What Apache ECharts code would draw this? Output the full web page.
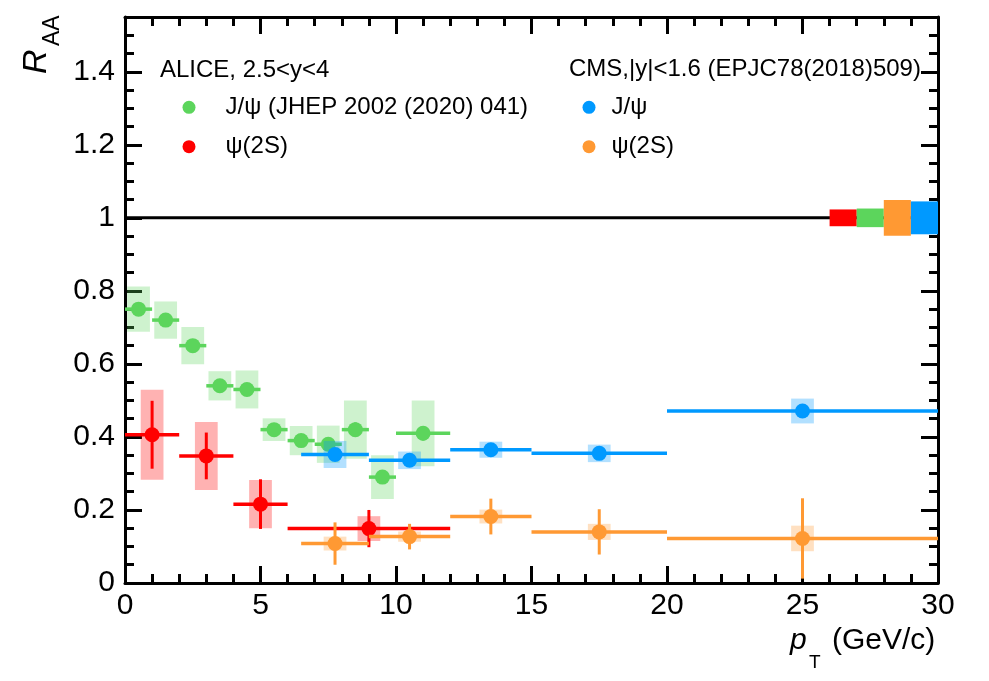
<!DOCTYPE html>
<html>
<head>
<meta charset="utf-8">
<title>R_AA vs pT</title>
<script src="https://cdn.jsdelivr.net/npm/echarts@6/dist/echarts.min.js"></script>
<style>
html, body { margin: 0; padding: 0; background: #fff; }
#main { width: 989px; height: 681px; }
</style>
</head>
<body>
<div id="main"></div>
<script>
// ALICE, 2.5<y<4 : J/psi
var aliceJpsiPt   = [0.5, 1.5, 2.5, 3.5, 4.5, 5.5, 6.5, 7.5, 8.5, 9.5, 11];
var aliceJpsiLo   = [0, 1, 2, 3, 4, 5, 6, 7, 8, 9, 10];
var aliceJpsiHi   = [1, 2, 3, 4, 5, 6, 7, 8, 9, 10, 12];
var aliceJpsiRaa  = [0.75, 0.72, 0.65, 0.54, 0.53, 0.42, 0.39, 0.38, 0.42, 0.29, 0.41];
var aliceJpsiStat = [0.01, 0.01, 0.01, 0.01, 0.01, 0.01, 0.01, 0.015, 0.02, 0.015, 0.02];
var aliceJpsiSyst = [0.062, 0.051, 0.051, 0.04, 0.052, 0.031, 0.04, 0.051, 0.08, 0.06, 0.09];

// ALICE : psi(2S)
var alicePsi2sPt   = [1, 3, 5, 9];
var alicePsi2sLo   = [0, 2, 4, 6];
var alicePsi2sHi   = [2, 4, 6, 12];
var alicePsi2sRaa  = [0.406, 0.348, 0.216, 0.149];
var alicePsi2sStat = [0.093, 0.064, 0.068, 0.051];
var alicePsi2sSyst = [0.123, 0.093, 0.066, 0.034];

// CMS, |y|<1.6 : J/psi
var cmsJpsiPt   = [7.75, 10.5, 13.5, 17.5, 25];
var cmsJpsiLo   = [6.5, 9, 12, 15, 20];
var cmsJpsiHi   = [9, 12, 15, 20, 30];
var cmsJpsiRaa  = [0.352, 0.336, 0.365, 0.355, 0.471];
var cmsJpsiStat = [0.01, 0.01, 0.01, 0.01, 0.01];
var cmsJpsiSyst = [0.037, 0.024, 0.022, 0.024, 0.034];

// CMS : psi(2S)
var cmsPsi2sPt   = [7.75, 10.5, 13.5, 17.5, 25];
var cmsPsi2sLo   = [6.5, 9, 12, 15, 20];
var cmsPsi2sHi   = [9, 12, 15, 20, 30];
var cmsPsi2sRaa  = [0.108, 0.127, 0.182, 0.14, 0.122];
var cmsPsi2sStat = [0.058, 0.035, 0.049, 0.062, 0.11];
var cmsPsi2sSyst = [0.019, 0.014, 0.019, 0.022, 0.035];

// global uncertainties drawn at R_AA = 1
var globalLo  = [26, 27, 28, 29];
var globalHi  = [27, 28, 29, 30];
var globalUnc = [0.023, 0.0255, 0.049, 0.045];

var xTicks = [0, 5, 10, 15, 20, 25, 30];
var yTicks = [0, 0.2, 0.4, 0.6, 0.8, 1, 1.2, 1.4];

var FONT = '"Liberation Sans", Arial, Helvetica, sans-serif';
var GREEN = '#5cd55c', RED = '#ff0000', BLUE = '#0099ff', ORANGE = '#ff9933';
var GLOBAL_COLORS = [RED, GREEN, ORANGE, BLUE];
var BOX_HALF = 0.42;

function rows(pt, raa, lo, hi, stat, syst) {
    return pt.map(function (x, i) {
        return [x, raa[i], lo[i], hi[i], stat[i], syst[i]];
    });
}

function pointsSeries(name, data, color, boxColor) {
    return {
        name: name,
        type: 'custom',
        z: 3,
        itemStyle: { color: color },
        encode: { x: 0, y: 1 },
        data: data,
        renderItem: function (params, api) {
            var x = api.value(0), y = api.value(1);
            var lo = api.value(2), hi = api.value(3);
            var st = api.value(4), sy = api.value(5);
            var c = api.coord([x, y]);
            var pl = api.coord([lo, y]), ph = api.coord([hi, y]);
            var st1 = api.coord([x, y + st]), st2 = api.coord([x, Math.max(y - st, 0)]);
            var b1 = api.coord([x - BOX_HALF, y + sy]), b2 = api.coord([x + BOX_HALF, y - sy]);
            return {
                type: 'group',
                children: [
                    { type: 'rect', shape: { x: b1[0], y: b1[1], width: b2[0] - b1[0], height: b2[1] - b1[1] },
                      style: { fill: boxColor } },
                    { type: 'line', shape: { x1: pl[0], y1: pl[1], x2: ph[0], y2: ph[1] },
                      style: { stroke: color, lineWidth: 3.5 } },
                    { type: 'line', shape: { x1: st1[0], y1: st1[1], x2: st2[0], y2: st2[1] },
                      style: { stroke: color, lineWidth: 3 } },
                    { type: 'circle', shape: { cx: c[0], cy: c[1], r: 7.5 },
                      style: { fill: color } }
                ]
            };
        }
    };
}

function frameAxis(extra) {
    var base = {
        type: 'value',
        axisLine: { show: true, onZero: false, lineStyle: { color: '#000', width: 3 } },
        axisTick: { show: true, inside: true, length: 17, lineStyle: { color: '#000', width: 3 } },
        minorTick: { show: true, length: 9, lineStyle: { color: '#000', width: 3 } },
        splitLine: { show: false },
        minorSplitLine: { show: false }
    };
    for (var k in extra) base[k] = extra[k];
    return base;
}

var chart = echarts.init(document.getElementById('main'));

var option = {
    animation: false,
    backgroundColor: '#fff',
    grid: { left: 125, right: 51, top: 17, bottom: 98 },
    xAxis: [
        frameAxis({ position: 'bottom', min: xTicks[0], max: xTicks[xTicks.length - 1], interval: 5,
            minorTick: { show: true, splitNumber: 5, length: 9, lineStyle: { color: '#000', width: 3 } },
            axisLabel: { margin: 8, fontFamily: FONT, fontSize: 30, color: '#000' } }),
        frameAxis({ position: 'top', min: xTicks[0], max: xTicks[xTicks.length - 1], interval: 5,
            minorTick: { show: true, splitNumber: 5, length: 9, lineStyle: { color: '#000', width: 3 } },
            axisLabel: { show: false } })
    ],
    yAxis: [
        frameAxis({ position: 'left', min: 0, max: 1.55, interval: 0.2,
            minorTick: { show: true, splitNumber: 4, length: 9, lineStyle: { color: '#000', width: 3 } },
            axisLabel: { margin: 10, fontFamily: FONT, fontSize: 30, color: '#000', showMaxLabel: false } }),
        frameAxis({ position: 'right', min: 0, max: 1.55, interval: 0.2,
            minorTick: { show: true, splitNumber: 4, length: 9, lineStyle: { color: '#000', width: 3 } },
            axisLabel: { show: false } })
    ],
    legend: [{
        data: ['J/ψ (JHEP 2002 (2020) 041)', 'ALICE ψ(2S)'],
        formatter: function (n) { return n.replace('ALICE ', ''); },
        orient: 'vertical', left: 182.5, top: 94.3, padding: 0, itemGap: 13.4,
        itemWidth: 13, itemHeight: 13, icon: 'circle', selectedMode: false,
        textStyle: { fontFamily: FONT, fontSize: 24, color: '#000', lineHeight: 26, padding: [0, 0, 0, 25] }
    }, {
        data: ['CMS J/ψ', 'CMS ψ(2S)'],
        formatter: function (n) { return n.replace('CMS ', ''); },
        orient: 'vertical', left: 582.5, top: 94.3, padding: 0, itemGap: 13.4,
        itemWidth: 13, itemHeight: 13, icon: 'circle', selectedMode: false,
        textStyle: { fontFamily: FONT, fontSize: 24, color: '#000', lineHeight: 26, padding: [0, 0, 0, 11] }
    }],
    graphic: [
        { type: 'text', x: 160, y: 70, style: { text: 'ALICE, 2.5<y<4', font: '24px ' + FONT, fill: '#000', verticalAlign: 'middle' } },
        { type: 'text', x: 569, y: 69, style: { text: 'CMS,|y|<1.6 (EPJC78(2018)509)', font: '24px ' + FONT, fill: '#000', verticalAlign: 'middle' } },
        // y title R_AA, rotated
        { type: 'text', x: 36.5, y: 74, rotation: Math.PI / 2, style: { text: 'R', font: 'italic 34px ' + FONT, fill: '#000', verticalAlign: 'middle', align: 'left' } },
        { type: 'text', x: 52.5, y: 46, rotation: Math.PI / 2, style: { text: 'AA', font: '23px ' + FONT, fill: '#000', verticalAlign: 'middle', align: 'left' } },
        // x title p_T (GeV/c)
        { type: 'text', x: 790, y: 641, style: { text: 'p', font: 'italic 30px ' + FONT, fill: '#000', verticalAlign: 'middle' } },
        { type: 'text', x: 809, y: 663, style: { text: 'T', font: '19px ' + FONT, fill: '#000', verticalAlign: 'middle' } },
        { type: 'text', x: 832, y: 641, style: { text: '(GeV/c)', font: '30px ' + FONT, fill: '#000', verticalAlign: 'middle' } }
    ],
    series: [
        {
            type: 'line', silent: true, symbol: 'none', z: 1,
            data: [[0, 1], [30, 1]],
            lineStyle: { color: '#000', width: 3 }
        },
        {
            type: 'custom', silent: true, z: 2,
            data: globalLo.map(function (lo, i) { return [lo, globalHi[i], globalUnc[i]]; }),
            encode: { x: [0, 1] },
            renderItem: function (params, api) {
                var p1 = api.coord([api.value(0), 1 + api.value(2)]);
                var p2 = api.coord([api.value(1), 1 - api.value(2)]);
                return { type: 'rect',
                    shape: { x: p1[0], y: p1[1], width: p2[0] - p1[0], height: p2[1] - p1[1] },
                    style: { fill: GLOBAL_COLORS[params.dataIndex] } };
            }
        },
        pointsSeries('J/ψ (JHEP 2002 (2020) 041)',
            rows(aliceJpsiPt, aliceJpsiRaa, aliceJpsiLo, aliceJpsiHi, aliceJpsiStat, aliceJpsiSyst),
            GREEN, 'rgba(92,213,92,0.3)'),
        pointsSeries('ALICE ψ(2S)',
            rows(alicePsi2sPt, alicePsi2sRaa, alicePsi2sLo, alicePsi2sHi, alicePsi2sStat, alicePsi2sSyst),
            RED, 'rgba(255,0,0,0.3)'),
        pointsSeries('CMS J/ψ',
            rows(cmsJpsiPt, cmsJpsiRaa, cmsJpsiLo, cmsJpsiHi, cmsJpsiStat, cmsJpsiSyst),
            BLUE, 'rgba(0,153,255,0.3)'),
        pointsSeries('CMS ψ(2S)',
            rows(cmsPsi2sPt, cmsPsi2sRaa, cmsPsi2sLo, cmsPsi2sHi, cmsPsi2sStat, cmsPsi2sSyst),
            ORANGE, 'rgba(255,153,51,0.3)')
    ]
};

chart.setOption(option);
</script>
</body>
</html>
